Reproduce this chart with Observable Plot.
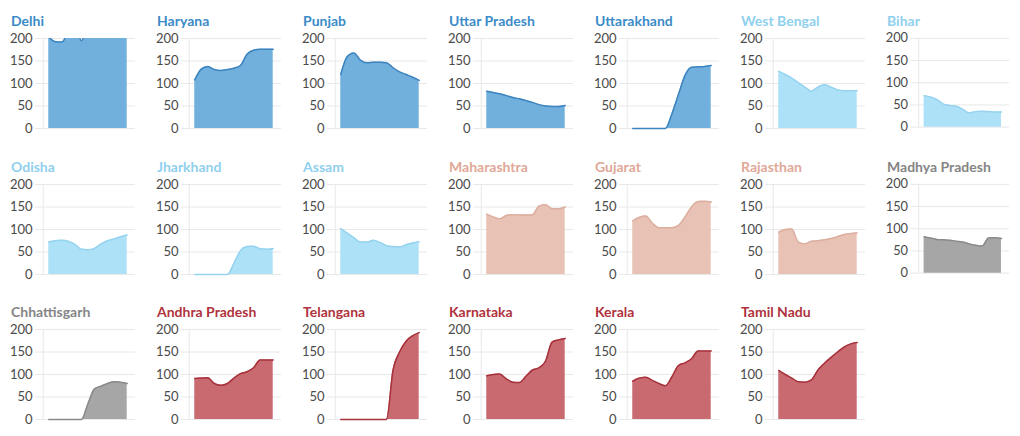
<!DOCTYPE html>
<html><head><meta charset="utf-8">
<script src="https://cdn.jsdelivr.net/npm/d3@7"></script>
<script src="https://cdn.jsdelivr.net/npm/@observablehq/plot@0.6"></script>
<style>
body{margin:0;background:#fff;font-family:Lato,"Noto Sans",sans-serif;}
#root{position:relative;width:1020px;height:436px;overflow:hidden;}
.title{position:absolute;font-weight:700;font-size:14px;line-height:17px;white-space:nowrap;}
.panel{position:absolute;}
</style></head><body><div id="root"></div>
<script>
// shared x positions (periods) and y ticks
const periods = [0,1,2,3,4,5,6,7,8,9,10,11,12];
const yTicks = [0,50,100,150,200];
const xStart = -0.85;

// state order and colour groups
const states = ["Delhi","Haryana","Punjab","Uttar Pradesh","Uttarakhand","West Bengal","Bihar",
  "Odisha","Jharkhand","Assam","Maharashtra","Gujarat","Rajasthan","Madhya Pradesh",
  "Chhattisgarh","Andhra Pradesh","Telangana","Karnataka","Kerala","Tamil Nadu"];
const stateGroups = ["north","north","north","north","north","east","east",
  "east","east","east","west","west","west","central",
  "central","south","south","south","south","south"];

// series values
const delhi         = [203,193,192,215,230,195,230,240,250,260,270,280,290];
const haryana       = [108,132,138,131,129,131,134,140,165,174,176,176,176];
const punjab        = [120,160,168,152,146,147,147,146,135,126,120,114,107];
const uttarPradesh  = [83,80,77,73,69,66,62,58,53,50,49,49,51];
const uttarakhand   = [0,0,0,0,0,0,33,76,118,136,137,138,140];
const westBengal    = [127,120,112,102,92,83,92,97,92,86,84,84,84];
const bihar         = [71,68,62,52,49,47,40,32,35,36,35,34,34];
const odisha        = [72,75,76,74,67,56,55,58,68,75,79,84,88];
const jharkhand     = [0,0,0,0,0,0,25,53,62,63,57,56,58];
const assam         = [102,92,82,72,72,76,71,64,62,61,66,70,73];
const maharashtra   = [134,128,124,131,133,132,132,133,152,155,146,146,150];
const gujarat       = [119,127,130,114,104,104,104,109,128,150,162,163,161];
const rajasthan     = [94,100,101,72,68,74,75,77,80,84,89,91,92];
const madhyaPradesh = [82,79,76,75,74,72,70,66,63,61,79,80,78];
const chhattisgarh  = [0,0,0,0,0,0,35,68,74,80,84,83,80];
const andhraPradesh = [91,92,93,80,76,80,92,102,106,115,132,132,132];
const telangana     = [0,0,0,0,0,0,0,0,110,150,174,186,193];
const karnataka     = [97,100,101,90,83,82,96,110,115,130,172,177,180];
const kerala        = [85,92,94,87,80,75,95,120,126,135,152,152,152];
const tamilNadu     = [109,100,92,84,83,88,110,125,138,150,161,168,171];

const seriesList = [delhi,haryana,punjab,uttarPradesh,uttarakhand,westBengal,bihar,
  odisha,jharkhand,assam,maharashtra,gujarat,rajasthan,madhyaPradesh,
  chhattisgarh,andhraPradesh,telangana,karnataka,kerala,tamilNadu];

const palette = {
  north:   {fill:"#71afdd", stroke:"#3c84bf", title:"#3b8bc8"},
  east:    {fill:"#ade1f7", stroke:"#96d3ef", title:"#8fd0ee"},
  west:    {fill:"#e8c3b5", stroke:"#dcae9f", title:"#e0a897"},
  central: {fill:"#a6a6a6", stroke:"#8a8a8a", title:"#858585"},
  south:   {fill:"#c86a70", stroke:"#a7323c", title:"#b0333d"}
};

const root = document.getElementById("root");
const colW = 146, rowH = 145.5;
const yMax = yTicks[yTicks.length - 1];

states.forEach((name, i) => {
  const col = i % 7, row = Math.floor(i / 7);
  const left = col * colW, top = row * rowH;
  const c = palette[stateGroups[i]];
  const data = periods.map((t, k) => ({t, v: seriesList[i][k]}));
  const needsClip = d3.max(seriesList[i]) > yMax;

  const title = document.createElement("div");
  title.className = "title";
  title.textContent = name;
  title.style.left = (left + 11) + "px";
  title.style.top = (top + 12) + "px";
  title.style.color = c.title;
  root.appendChild(title);

  const chart = Plot.plot({
    width: colW, height: 110,
    marginLeft: 35, marginRight: 11, marginTop: 8, marginBottom: 12,
    style: {fontFamily: "Lato, 'Noto Sans', sans-serif", fontSize: "13px", color: "#4a4a4a", background: "transparent", overflow: "visible"},
    x: {domain: [xStart, periods[periods.length - 1]], insetLeft: 7.7, insetRight: 8.3, axis: null},
    y: {domain: [yTicks[0], yMax]},
    marks: [
      Plot.gridY(yTicks, {stroke: "#e8e8e8", strokeOpacity: 1}),
      Plot.ruleX([xStart], {y1: yTicks[0], y2: yMax, stroke: "#e8e8e8"}),
      Plot.axisY(yTicks, {tickSize: 0, tickPadding: 3, label: null}),
      Plot.areaY(data, {x: "t", y: "v", fill: c.fill, fillOpacity: 1, curve: "monotone-x", clip: needsClip}),
      Plot.lineY(data, {x: "t", y: "v", stroke: c.stroke, strokeWidth: 1.5, curve: "monotone-x", clip: needsClip})
    ]
  });
  const wrap = document.createElement("div");
  wrap.className = "panel";
  wrap.style.left = left + "px";
  wrap.style.top = (top + 30) + "px";
  wrap.appendChild(chart);
  root.appendChild(wrap);
});
</script>
</body></html>
